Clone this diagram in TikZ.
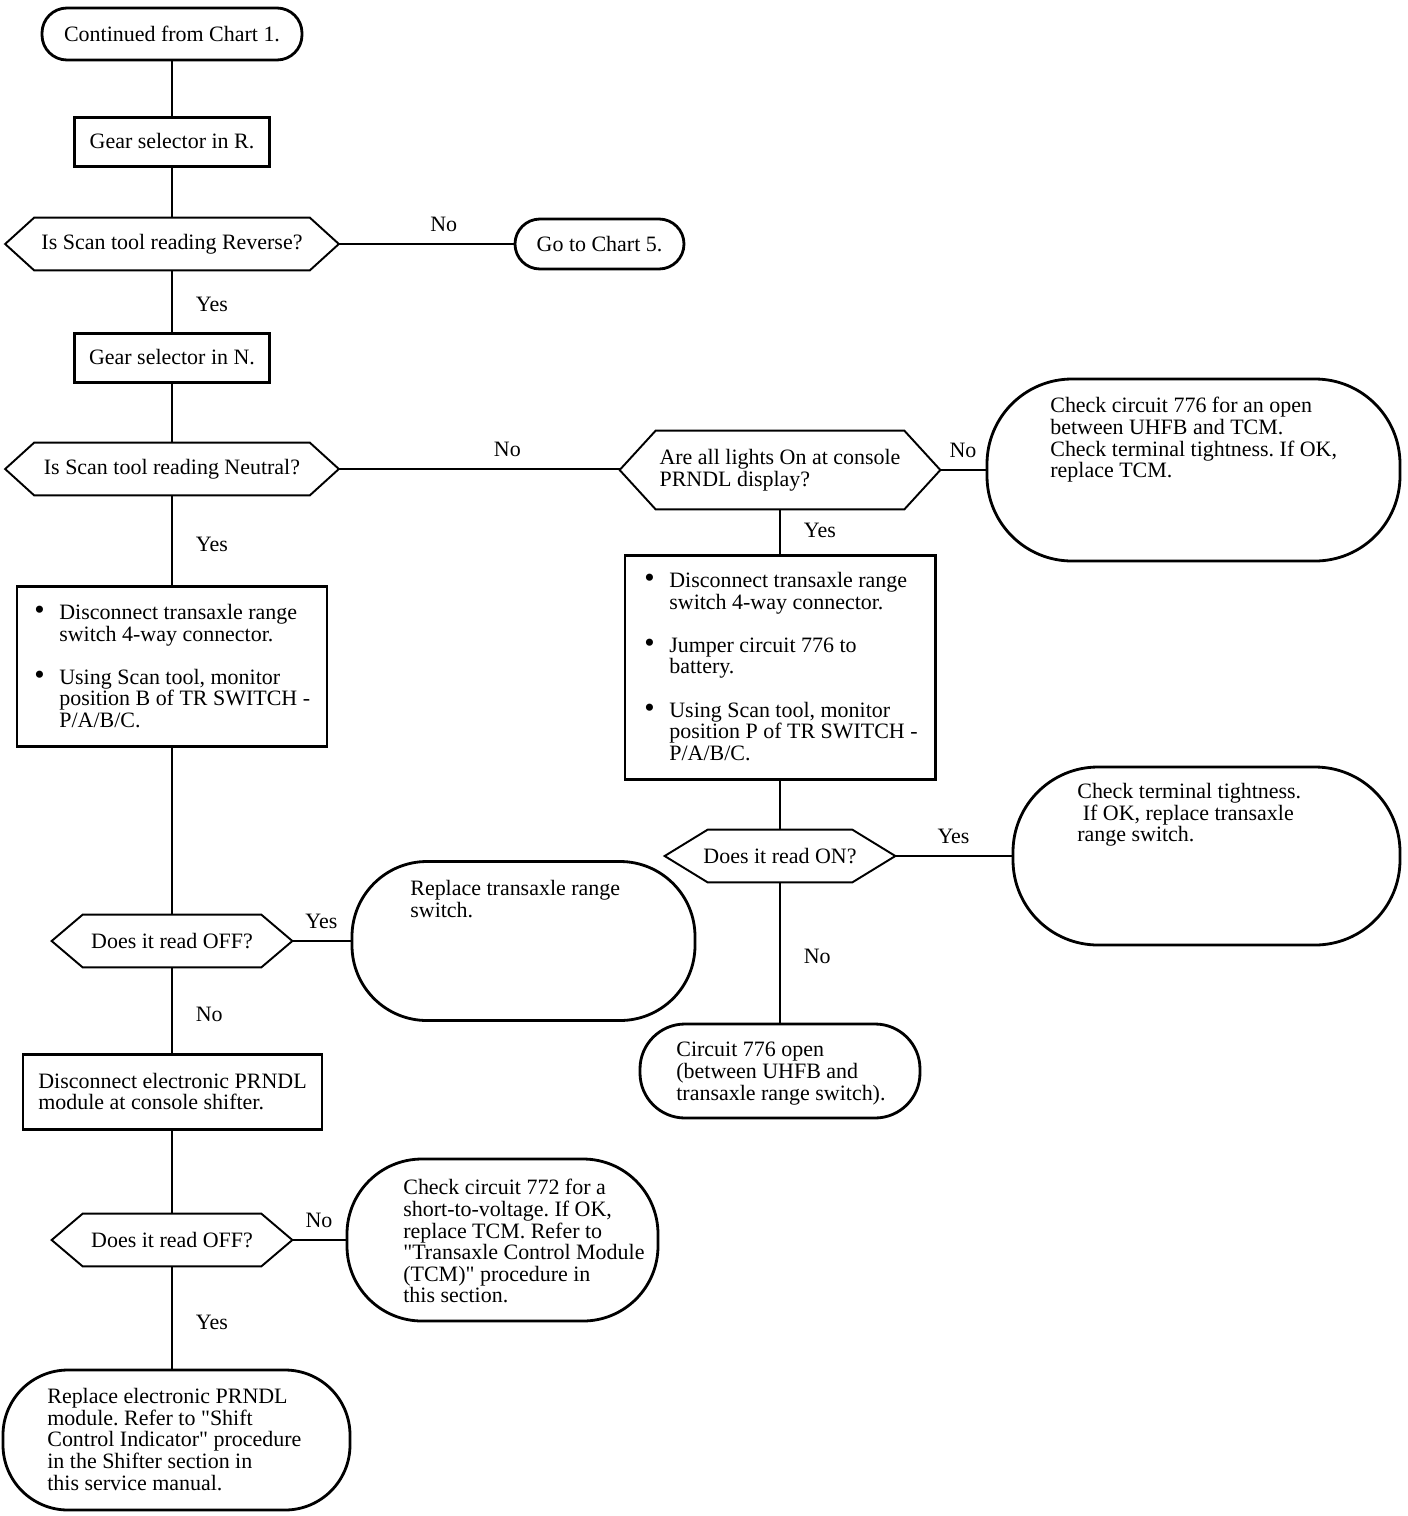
\documentclass[tikz,border=0pt]{standalone}
\usepackage{fontspec}
\setmainfont{Liberation Serif}[Ligatures=TeXOff]
\usetikzlibrary{positioning}

\newcommand{\chartfont}{\fontsize{12.5}{12.3}\selectfont\frenchspacing}
\newcommand{\bul}{\makebox[0.5cm][l]{\scalebox{1.35}{\textbullet}}}
\newcommand{\hang}{\hspace*{0.5cm}}

\begin{document}
\begin{tikzpicture}[x=0.02cm, y=-0.02cm,
  font=\chartfont,
  conn/.style={line width=1pt},
  procbox/.style={draw, line width=1.7pt, inner sep=0pt},
  termbox/.style={draw, line width=1.6pt, inner sep=0pt},
  decbox/.style={inner sep=0pt},
  hexline/.style={line width=1.1pt, line join=miter},
  sz/.style 2 args={minimum width=#1*0.02cm, minimum height=#2*0.02cm},
  txt/.style={align=left, inner sep=0pt, anchor=north west},
  lbl/.style={inner sep=0pt}
]
\useasboundingbox (0,0) rectangle (1408,1516);

% main column
\node[termbox, sz={260}{52}, rounded corners=0.5cm] (start) at (172,34) {Continued from Chart 1.};
\node[procbox, sz={195}{49}] (gearR) at (172,141.5) {Gear selector in R.};
\node[decbox, sz={333}{52}] (qRev) at (172,244) {Is Scan tool reading Reverse?};
\node[termbox, sz={169}{50}, rounded corners=0.5cm] (chart5) at (599.5,244) {Go to Chart 5.};
\node[procbox, sz={195}{49}] (gearN) at (172,357.5) {Gear selector in N.};
\node[decbox, sz={333}{52}] (qNeu) at (172,469) {Is Scan tool reading Neutral?};

% right branch
\node[decbox, sz={320}{78}, align=left] (qLights) at (780,470) {Are all lights On at console\\PRNDL display?};
\node[termbox, sz={413}{182}, rounded corners=1.7cm] (chk776) at (1193.5,470) {};
\node[txt] (chk776t) at (1050,397) {Check circuit 776 for an open\\between UHFB and TCM.\\Check terminal tightness. If OK,\\replace TCM.};
\node[procbox, sz={310}{224}] (tstR) at (780,667) {};
\node[txt] (tstRt) at (644,572) {\bul Disconnect transaxle range\\\hang switch 4-way connector.\\[0.43cm]
  \bul Jumper circuit 776 to\\\hang battery.\\[0.43cm]
  \bul Using Scan tool, monitor\\\hang position P of TR SWITCH -\\\hang P/A/B/C.};
\node[decbox, sz={230}{52}] (qOn) at (780,856) {Does it read ON?};
\node[termbox, sz={387}{178}, rounded corners=1.7cm] (chkTerm) at (1206.5,856) {};
\node[txt] (chkTermt) at (1077,783) {Check terminal tightness.\\\hspace*{0.25em}If OK, replace transaxle\\range switch.};
\node[termbox, sz={280}{94}, rounded corners=0.9cm] (open776) at (780,1071) {};
\node[txt] (open776t) at (676,1042) {Circuit 776 open\\(between UHFB and\\transaxle range switch).};

% left branch
\node[procbox, sz={310}{160}] (tstL) at (172,666) {};
\node[txt] (tstLt) at (34,604) {\bul Disconnect transaxle range\\\hang switch 4-way connector.\\[0.43cm]
  \bul Using Scan tool, monitor\\\hang position B of TR SWITCH -\\\hang P/A/B/C.};
\node[decbox, sz={240}{52}] (qOff1) at (172,941) {Does it read OFF?};
\node[termbox, sz={343}{159}, rounded corners=1.5cm] (replTR) at (523.5,941) {};
\node[txt] (replTRt) at (410,880) {Replace transaxle range\\switch.};
\node[procbox, sz={299}{75}, align=left] (discP) at (172.5,1091.5) {Disconnect electronic PRNDL\\module at console shifter.};
\node[decbox, sz={240}{52}] (qOff2) at (172,1240) {Does it read OFF?};
\node[termbox, sz={311}{162}, rounded corners=1.5cm] (chk772) at (502.5,1240) {};
\node[txt] (chk772t) at (403,1179) {Check circuit 772 for a\\short-to-voltage. If OK,\\replace TCM. Refer to\\"Transaxle Control Module\\(TCM)" procedure in\\this section.};
\node[termbox, sz={347}{140}, rounded corners=1.3cm] (replP) at (176.5,1440) {};
\node[txt] (replPt) at (47,1388) {Replace electronic PRNDL\\module. Refer to "Shift\\Control Indicator" procedure\\in the Shifter section in\\this service manual.};

% decision outlines
\foreach \n/\dd in {qRev/29, qNeu/29, qLights/36, qOn/43, qOff1/31, qOff2/31}
  \draw[hexline] (\n.west) -- ([xshift=\dd*0.02cm]\n.north west) -- ([xshift=-\dd*0.02cm]\n.north east)
    -- (\n.east) -- ([xshift=-\dd*0.02cm]\n.south east) -- ([xshift=\dd*0.02cm]\n.south west) -- cycle;

% connectors
\draw[conn] (start) -- (gearR);
\draw[conn] (gearR) -- (qRev);
\draw[conn] (qRev) -- node[lbl, above=0.22cm, pos=0.6] {No} (chart5);
\draw[conn] (qRev) -- node[lbl, right=0.46cm, pos=0.55] {Yes} (gearN);
\draw[conn] (gearN) -- (qNeu);
\draw[conn] (qNeu.east) -- node[lbl, above=0.22cm, pos=0.6] {No} (qNeu.east -| qLights.west);
\draw[conn] (qLights) -- node[lbl, above=0.22cm] {No} (chk776);
\draw[conn] (qLights) -- node[lbl, right=0.46cm, pos=0.48] {Yes} (tstR);
\draw[conn] (tstR) -- (qOn);
\draw[conn] (qOn) -- node[lbl, above=0.22cm] {Yes} (chkTerm);
\draw[conn] (qOn) -- node[lbl, right=0.46cm, pos=0.53] {No} (open776);
\draw[conn] (qNeu) -- node[lbl, right=0.46cm, pos=0.55] {Yes} (tstL);
\draw[conn] (tstL) -- (qOff1);
\draw[conn] (qOff1) -- node[lbl, above=0.22cm] {Yes} (replTR);
\draw[conn] (qOff1.south) -- node[lbl, right=0.46cm, pos=0.55] {No} (qOff1.south |- discP.north);
\draw[conn] (qOff2.north |- discP.south) -- (qOff2.north);
\draw[conn] (qOff2) -- node[lbl, above=0.22cm] {No} (chk772);
\draw[conn] (qOff2.south) -- node[lbl, right=0.46cm, pos=0.55] {Yes} (qOff2.south |- replP.north);
\end{tikzpicture}
\end{document}
